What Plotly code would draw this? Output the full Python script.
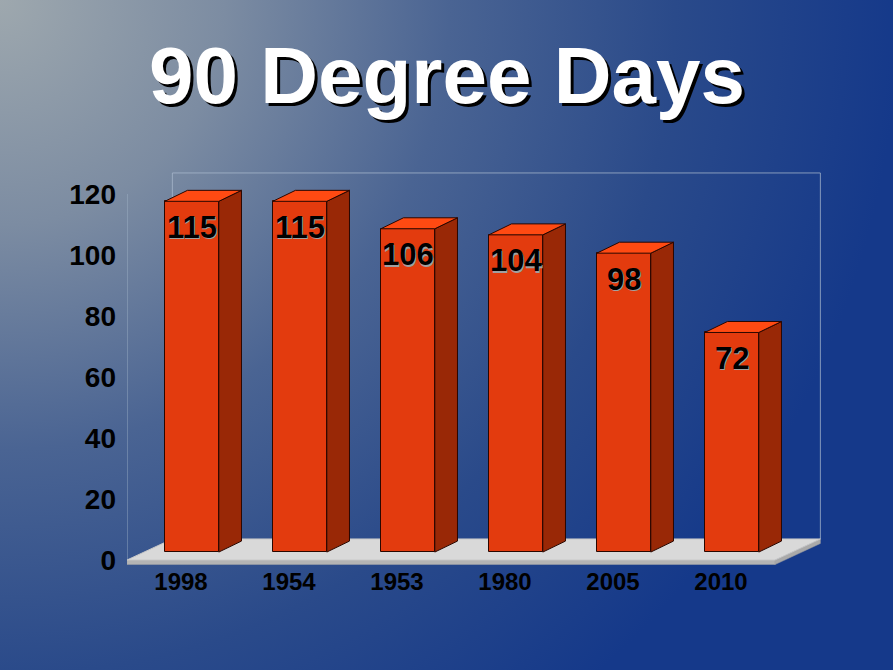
import base64
import plotly.graph_objects as go

# data
years = ['1998', '1954', '1953', '1980', '2005', '2010']
days = [115, 115, 106, 104, 98, 72]
yticks = [0, 20, 40, 60, 80, 100, 120]
title_text = '90 Degree Days'

# geometry of the fake 3d (in axis units)
BAR_W = 0.5
SX, SY = 0.10, 2.6        # shift of bar front face off the floor front edge
BDX, BDY = 0.21, 3.6      # bar depth
FDX, FDY = 0.42, 6.9      # floor / wall depth
SLAB = 1.5                # floor thickness
YTOP = 120

W, H = 893, 670
ML, MR, MT, MB = 127, 64, 160, 105
plot_w = W - ML - MR
plot_h = H - MT - MB

FONT = 'Liberation Sans, Arial, sans-serif'
FRONT = '#E33B0E'
SIDE = '#992806'
TOP = '#FF4A12'
EDGE = '#2a0700'
WALL = 'rgba(170,185,205,0.75)'

# background gradient as svg image
svg = f'''<svg xmlns="http://www.w3.org/2000/svg" width="{W}" height="{H}">
<defs><radialGradient id="g" gradientUnits="userSpaceOnUse" cx="0" cy="0" r="900">
<stop offset="0" stop-color="#9EA8AE"/>
<stop offset="0.25" stop-color="#7C8CA2"/>
<stop offset="0.5" stop-color="#4A6493"/>
<stop offset="0.75" stop-color="#2A4A8A"/>
<stop offset="1" stop-color="#15398A"/>
</radialGradient></defs>
<rect width="{W}" height="{H}" fill="url(#g)"/></svg>'''
bg_src = 'data:image/svg+xml;base64,' + base64.b64encode(svg.encode()).decode()

n = len(years)
xs = list(range(n))
xl, xr = -0.5, n - 0.5


def path(pts):
    return 'M ' + ' L '.join(f'{x},{y}' for x, y in pts) + ' Z'


fig = go.Figure()

# floor and walls go in as shapes below the bars
shapes = [
    dict(type='path', layer='below', fillcolor='#B4B4B4', line=dict(color='#A8A8A8', width=0.5),
         path=path([(xl, 0), (xr, 0), (xr, -SLAB), (xl, -SLAB)])),
    dict(type='path', layer='below', fillcolor='#A9A9A9', line=dict(color='#A0A0A0', width=0.5),
         path=path([(xr, 0), (xr + FDX, FDY), (xr + FDX, FDY - SLAB), (xr, -SLAB)])),
    dict(type='path', layer='below', fillcolor='#D9D9D9', line=dict(color='#C8C8C8', width=1),
         path=path([(xl, 0), (xr, 0), (xr + FDX, FDY), (xl + FDX, FDY)])),
    dict(type='line', layer='below', x0=xl, x1=xl, y0=0, y1=YTOP, line=dict(color=WALL, width=1)),
    dict(type='line', layer='below', x0=xl + FDX, x1=xl + FDX, y0=FDY, y1=YTOP + FDY,
         line=dict(color=WALL, width=1)),
    dict(type='line', layer='below', x0=xl + FDX, x1=xr + FDX, y0=YTOP + FDY, y1=YTOP + FDY,
         line=dict(color=WALL, width=1)),
    dict(type='line', layer='below', x0=xr + FDX, x1=xr + FDX, y0=FDY, y1=YTOP + FDY,
         line=dict(color=WALL, width=1)),
]

# bar fronts
fig.add_trace(go.Bar(x=[i + SX for i in xs], y=days, base=SY, width=BAR_W,
                     marker=dict(color=FRONT, line=dict(color=EDGE, width=1)),
                     hoverinfo='skip', showlegend=False))

# bar side and top faces
side_x, side_y, top_x, top_y = [], [], [], []
for i, v in zip(xs, days):
    x0 = i + SX - BAR_W / 2
    x1 = i + SX + BAR_W / 2
    y0, y1 = SY, SY + v
    side_x += [x1, x1 + BDX, x1 + BDX, x1, x1, None]
    side_y += [y0, y0 + BDY, y1 + BDY, y1, y0, None]
    top_x += [x0, x1, x1 + BDX, x0 + BDX, x0, None]
    top_y += [y1, y1, y1 + BDY, y1 + BDY, y1, None]

fig.add_trace(go.Scatter(x=side_x, y=side_y, mode='lines', fill='toself', fillcolor=SIDE,
                         line=dict(color=EDGE, width=1), hoverinfo='skip', showlegend=False))
fig.add_trace(go.Scatter(x=top_x, y=top_y, mode='lines', fill='toself', fillcolor=TOP,
                         line=dict(color=EDGE, width=1), hoverinfo='skip', showlegend=False))

# value labels (grey halo + black)
for i, v in zip(xs, days):
    for col, dx, dy in [('#A0A0A0', 1.5, -1.5), ('black', 0, 0)]:
        fig.add_annotation(x=i + SX, y=v + SY, text=f'<b>{v}</b>', showarrow=False,
                           yanchor='middle', xshift=dx, yshift=-26 + dy,
                           font=dict(family=FONT, size=31, color=col))

# title with shadow
tx = (447 - ML) / plot_w
ty = 1 + (MT - 76) / plot_h
for col, dx, dy in [('black', 3, -3), ('white', 0, 0)]:
    fig.add_annotation(xref='paper', yref='paper', x=tx, y=ty, text=f'<b>{title_text}</b>',
                       showarrow=False, xanchor='center', yanchor='middle', xshift=dx, yshift=dy,
                       font=dict(family=FONT, size=80, color=col))

fig.update_layout(
    width=W, height=H,
    margin=dict(l=ML, r=MR, t=MT, b=MB),
    paper_bgcolor='#1E4088', plot_bgcolor='rgba(0,0,0,0)',
    shapes=shapes,
    images=[dict(source=bg_src, xref='paper', yref='paper',
                 x=-ML / plot_w, y=1 + MT / plot_h, sizex=W / plot_w, sizey=H / plot_h,
                 xanchor='left', yanchor='top', sizing='stretch', layer='below')],
    xaxis=dict(range=[xl, xl + plot_w / 108.0], tickvals=xs, ticktext=years,
               showgrid=False, zeroline=False, showline=False, ticks='',
               ticklabelstandoff=0,
               tickfont=dict(family=FONT, size=24, color='black', weight='bold')),
    yaxis=dict(range=[-(H - MB - 560) / 3.05, (560 - MT) / 3.05], tickvals=yticks,
               showgrid=False, zeroline=False, showline=False, ticks='',
               ticklabelstandoff=10,
               tickfont=dict(family=FONT, size=28, color='black', weight='bold')),
    bargap=0,
)

# drop the default page margin so the slide fills the window
fig.write_html('out.html', config={'displayModeBar': False},
               post_script="document.body.style.margin='0';")
